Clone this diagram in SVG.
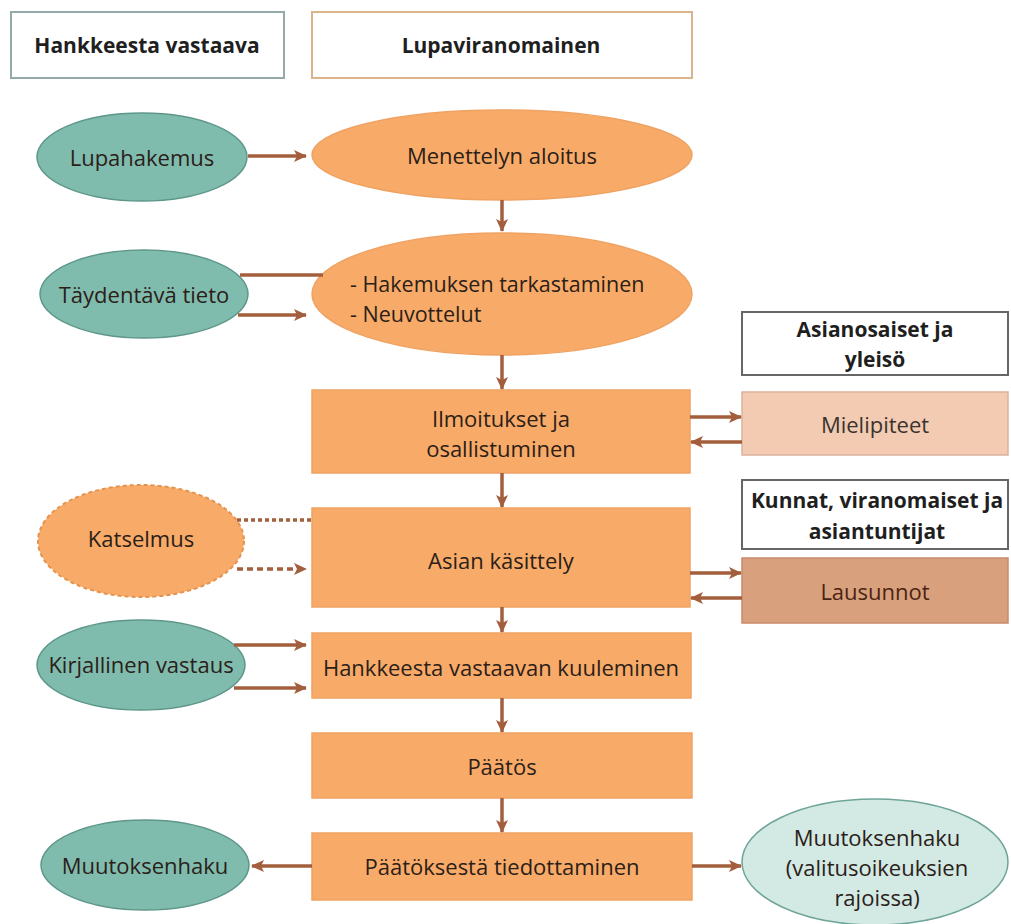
<svg xmlns="http://www.w3.org/2000/svg" width="1011" height="924" viewBox="0 0 1011 924">
<defs>
<marker id="ah" viewBox="0 0 13 13" refX="12" refY="6.5" markerWidth="13" markerHeight="13" markerUnits="userSpaceOnUse" orient="auto">
<path d="M0,0.5 L13,6.5 L0,12.5 L3,6.5 z" fill="#a35f3d"/>
</marker>
<style>
text{font-family:"Open Sans","Noto Sans","Liberation Sans",sans-serif;font-size:22px;text-anchor:middle;dominant-baseline:central;fill:#2b2018}
.b{font-weight:bold;font-size:21px;fill:#1f1f1f}
.l{text-anchor:start;font-size:21.5px}
.teal{fill:#80bcae;stroke:#5e978a;stroke-width:1.5}
.lteal{fill:#d3e9e3;stroke:#6ea598;stroke-width:1.5}
.org{fill:#f8ab68;stroke:#efa262;stroke-width:1.5}
.hdr{fill:#fff;stroke-width:2}
.grp{fill:#fff;stroke:#666;stroke-width:2}
.con line{stroke:#a35f3d;stroke-width:3.5;fill:none}
.arr{marker-end:url(#ah)}
</style>
</defs>
<rect width="1011" height="924" fill="#fff"/>

<g id="hdr-hankkeesta"><rect class="hdr" x="11" y="12" width="273" height="66" stroke="#93aaa8"/><text class="b" x="147" y="45">Hankkeesta vastaava</text></g>
<g id="hdr-lupa"><rect class="hdr" x="312" y="12" width="380" height="66" stroke="#dcb48c"/><text class="b" x="501" y="45">Lupaviranomainen</text></g>

<g id="lupahakemus"><ellipse class="teal" cx="142" cy="157" rx="105" ry="44"/><text x="142" y="157">Lupahakemus</text></g>
<g id="menettelyn"><ellipse class="org" cx="502" cy="155" rx="190" ry="45"/><text x="502" y="155">Menettelyn aloitus</text></g>

<g id="taydentava"><ellipse class="teal" cx="144" cy="294" rx="104" ry="44"/><text x="144" y="294">Täydentävä tieto</text></g>
<g id="hakemuksen"><ellipse class="org" cx="502" cy="294" rx="190" ry="61"/><text class="l" x="350" y="283">- Hakemuksen tarkastaminen</text><text class="l" x="350" y="313">- Neuvottelut</text></g>

<g id="asianosaiset"><rect class="grp" x="742" y="312" width="266" height="63"/><text class="b" x="875" y="329">Asianosaiset ja</text><text class="b" x="875" y="359">yleisö</text></g>
<g id="ilmoitukset"><rect class="org" x="312" y="390" width="378" height="83"/><text x="501" y="418">Ilmoitukset ja</text><text x="501" y="448">osallistuminen</text></g>
<g id="mielipiteet"><rect x="742" y="392" width="266" height="63" fill="#f2cbb2" stroke="#dcb29a" stroke-width="1.5"/><text x="875" y="424" style="fill:#3a3330">Mielipiteet</text></g>

<g id="katselmus"><ellipse cx="141" cy="541" rx="103" ry="56" fill="#f8ab68" stroke="#e4934f" stroke-width="2" stroke-dasharray="4,3"/><text x="141" y="538">Katselmus</text></g>
<g id="asian"><rect class="org" x="312" y="508" width="378" height="99"/><text x="501" y="560">Asian käsittely</text></g>
<g id="kunnat"><rect class="grp" x="742" y="480" width="266" height="69"/><text class="b" x="877" y="500">Kunnat, viranomaiset ja</text><text class="b" x="877" y="531">asiantuntijat</text></g>
<g id="lausunnot"><rect x="742" y="558" width="266" height="65" fill="#d9a07e" stroke="#c98b69" stroke-width="1.5"/><text x="875" y="591" style="fill:#4a2412">Lausunnot</text></g>

<g id="kirjallinen"><ellipse class="teal" cx="141" cy="665" rx="104" ry="45"/><text x="141" y="664">Kirjallinen vastaus</text></g>
<g id="kuuleminen"><rect class="org" x="312" y="633" width="379" height="65"/><text x="501" y="667">Hankkeesta vastaavan kuuleminen</text></g>

<g id="paatos"><rect class="org" x="312" y="733" width="380" height="65"/><text x="502" y="766">Päätös</text></g>

<g id="muutoksenhaku"><ellipse class="teal" cx="145" cy="865" rx="104" ry="45"/><text x="145" y="865">Muutoksenhaku</text></g>
<g id="tiedottaminen"><rect class="org" x="312" y="833" width="380" height="67"/><text x="502" y="866">Päätöksestä tiedottaminen</text></g>
<g id="muutoksenhaku2"><ellipse class="lteal" cx="875" cy="862" rx="133" ry="63"/><text x="877" y="837">Muutoksenhaku</text><text x="877" y="867">(valitusoikeuksien</text><text x="877" y="897">rajoissa)</text></g>

<g id="connectors" class="con">
<line class="arr" x1="248" y1="156" x2="306" y2="156"/>
<line class="arr" x1="502" y1="200" x2="502" y2="231"/>
<line x1="240" y1="275" x2="323" y2="275"/>
<line class="arr" x1="238" y1="315" x2="306" y2="315"/>
<line class="arr" x1="502" y1="355" x2="502" y2="389"/>
<line class="arr" x1="690" y1="417" x2="741" y2="417"/>
<line class="arr" x1="742" y1="442" x2="691" y2="442"/>
<line class="arr" x1="502" y1="473" x2="502" y2="507"/>
<line x1="237" y1="520" x2="312" y2="520" style="stroke-dasharray:4,3"/>
<line class="arr" x1="237" y1="569" x2="306" y2="569" style="stroke-dasharray:6,4"/>
<line class="arr" x1="690" y1="573" x2="741" y2="573"/>
<line class="arr" x1="742" y1="598" x2="691" y2="598"/>
<line class="arr" x1="502" y1="607" x2="502" y2="632"/>
<line class="arr" x1="234" y1="645" x2="306" y2="645"/>
<line class="arr" x1="234" y1="688" x2="306" y2="688"/>
<line class="arr" x1="502" y1="698" x2="502" y2="732"/>
<line class="arr" x1="502" y1="798" x2="502" y2="832"/>
<line class="arr" x1="312" y1="866" x2="252" y2="866"/>
<line class="arr" x1="692" y1="866" x2="741" y2="866"/>
</g>
</svg>
